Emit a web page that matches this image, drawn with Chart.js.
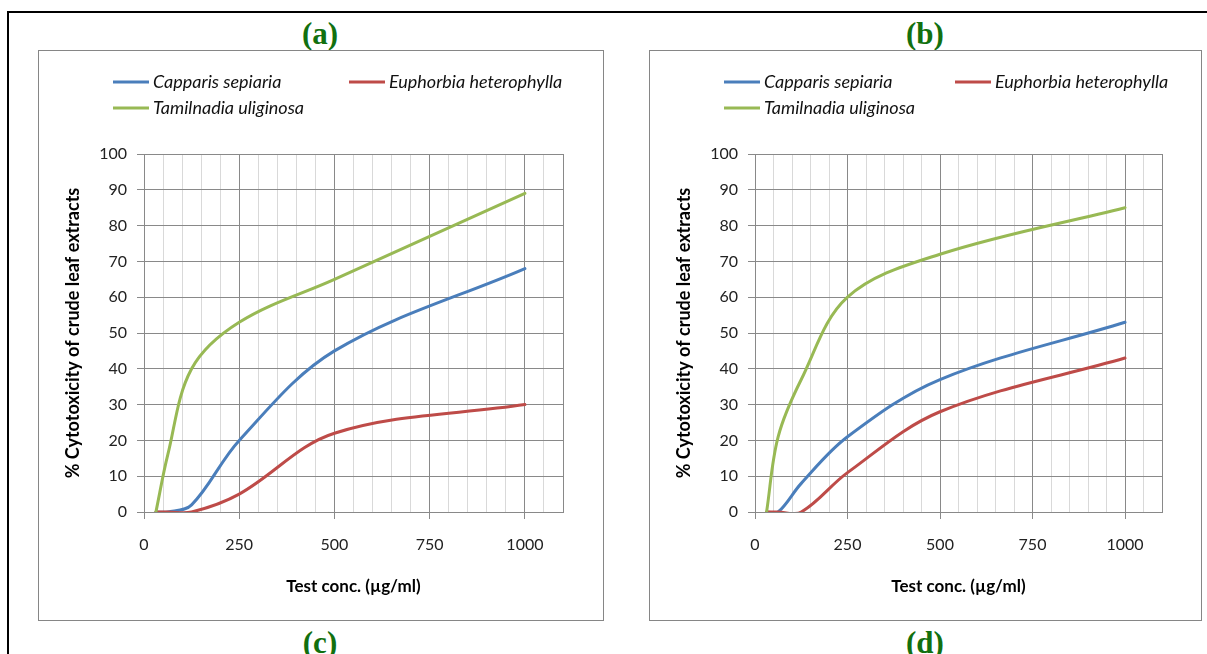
<!DOCTYPE html>
<html>
<head>
<meta charset="utf-8">
<title>Cytotoxicity of crude leaf extracts</title>
<script src="https://cdn.jsdelivr.net/npm/chart.js@4.4.0/dist/chart.umd.min.js"></script>
<style>
  body { margin: 0; background: #fff; width: 1207px; height: 654px; overflow: hidden; position: relative; }
  #frame { position: absolute; left: 7px; top: 11px; width: 1300px; height: 700px; border-left: 2px solid #000; border-top: 2px solid #000; }
  .box { position: absolute; top: 50px; height: 569px; border: 1px solid #868686; background: #fff; }
  .box canvas { display: block; }
  #box-a { left: 38px; width: 564px; }
  #box-b { left: 649px; width: 551px; }
  .tag { position: absolute; width: 80px; text-align: center; font: bold 31px 'Liberation Serif', 'Times New Roman', serif; color: #12700f; line-height: 34px; }
</style>
</head>
<body>
<div id="frame"></div>
<div class="tag" style="left:280px; top:17px;">(a)</div>
<div class="tag" style="left:885px; top:17px;">(b)</div>
<div class="box" id="box-a"><canvas id="chart-a" width="564" height="569"></canvas></div>
<div class="box" id="box-b"><canvas id="chart-b" width="551" height="569"></canvas></div>
<div class="tag" style="left:280px; top:626px;">(c)</div>
<div class="tag" style="left:885px; top:626px;">(d)</div>
<script>
'use strict';

// ******* DATA ********

let testConc = [31.25, 62.5, 125, 250, 500, 1000];
let speciesNames = ['Capparis sepiaria', 'Euphorbia heterophylla', 'Tamilnadia uliginosa'];
let lineColors = ['#4a7ebb', '#be4b48', '#98b954'];

// chart (a)
let capparisA = [0, 0, 2, 20, 45, 68];
let euphorbiaA = [0, 0, 0, 5, 22, 30];
let tamilnadiaA = [0, 16, 40, 53, 65, 89];

// chart (b)
let capparisB = [0, 0, 8, 21, 37, 53];
let euphorbiaB = [0, 0, 0, 11, 28, 43];
let tamilnadiaB = [0, 21, 37, 60, 72, 85];

let xTickLabels = [0, 250, 500, 750, 1000];
let xMax = 1100;
let yMax = 100;

// ******* HELPERS ********

function makeDataset(name, values, color, order){
  return {
    label: name,
    data: testConc.map((c, i) => ({x: c, y: values[i]})),
    borderColor: color,
    backgroundColor: color,
    borderWidth: 3,
    borderCapStyle: 'round',
    borderJoinStyle: 'round',
    pointRadius: 0,
    tension: 0.35,
    fill: false,
    order: order
  };
}

function gridColor(ctx){
  let v = ctx.tick.value;
  if(v % 250 === 0 || v === xMax){
    return '#898989';
  }
  return '#d9d9d9';
}

function tickColor(ctx){
  return ctx.tick.value % 250 === 0 ? '#898989' : 'rgba(0,0,0,0)';
}

// legend laid out like the spreadsheet one: two columns, wraps after two
let sketchLegend = {
  id: 'sketchLegend',
  afterDraw(chart, args, opts){
    let ctx = chart.ctx;
    let left = chart.chartArea.left;
    ctx.save();
    ctx.font = 'italic 18px Lato';
    ctx.textBaseline = 'middle';
    ctx.textAlign = 'left';
    chart.data.datasets.forEach((ds, i) => {
      let spot = opts.spots[i];
      let x = left + spot[0];
      let y = spot[1];
      ctx.strokeStyle = ds.borderColor;
      ctx.lineWidth = 3;
      ctx.beginPath();
      ctx.moveTo(x, y);
      ctx.lineTo(x + 36, y);
      ctx.stroke();
      ctx.fillStyle = '#111';
      ctx.fillText(ds.label, x + 40, y);
    });
    ctx.restore();
  }
};

function buildChart(canvasId, series, spots, rightPad){
  let ctx = document.getElementById(canvasId);
  let datasets = [];
  for(let i = 0; i < series.length; i++){
    datasets.push(makeDataset(speciesNames[i], series[i], lineColors[i], series.length - i));
  }

  let tickFont = {family: 'Lato', size: 16};

  let chartObj = {
    type: 'line',
    data: { datasets: datasets },
    plugins: [sketchLegend],
    options: {
      responsive: false,
      animation: false,
      layout: { padding: { left: 0, top: 103, right: rightPad, bottom: 0 } },
      elements: { line: { capBezierPoints: false } },
      plugins: {
        legend: { display: false },
        tooltip: { enabled: false },
        sketchLegend: { spots: spots }
      },
      scales: {
        x: {
          type: 'linear',
          min: 0,
          max: xMax,
          ticks: {
            stepSize: 50,
            autoSkip: false,
            maxRotation: 0,
            padding: 16,
            color: '#222',
            font: tickFont,
            callback: (v) => xTickLabels.includes(v) ? String(v) : ''
          },
          grid: { color: gridColor, tickColor: tickColor, tickLength: 7 },
          border: { color: '#898989' },
          title: {
            display: true,
            text: 'Test conc. (µg/ml)',
            color: '#000',
            font: {family: 'Lato', size: 17, weight: 'bold'},
            padding: { top: 0, bottom: 23 }
          },
          afterFit: (scale) => { scale.height = 108; }
        },
        y: {
          type: 'linear',
          min: 0,
          max: yMax,
          ticks: { stepSize: 10, padding: 10, color: '#222', font: tickFont },
          grid: { color: '#898989', tickLength: 7 },
          border: { color: '#898989' },
          title: {
            display: true,
            text: '% Cytotoxicity of crude leaf extracts',
            color: '#000',
            font: {family: 'Lato', size: 18, weight: 'bold'},
            padding: { top: 23, bottom: 0 }
          },
          afterFit: (scale) => { scale.width = 105; }
        }
      }
    }
  };

  new Chart(ctx, chartObj); //eslint-disable-line
}

// ***** EXECUTABLE CODE ******
buildChart('chart-a', [capparisA, euphorbiaA, tamilnadiaA], [[-31, 31], [205, 31], [-31, 57]], 40);
buildChart('chart-b', [capparisB, euphorbiaB, tamilnadiaB], [[-31, 31], [200, 31], [-31, 57]], 39);
</script>
</body>
</html>
